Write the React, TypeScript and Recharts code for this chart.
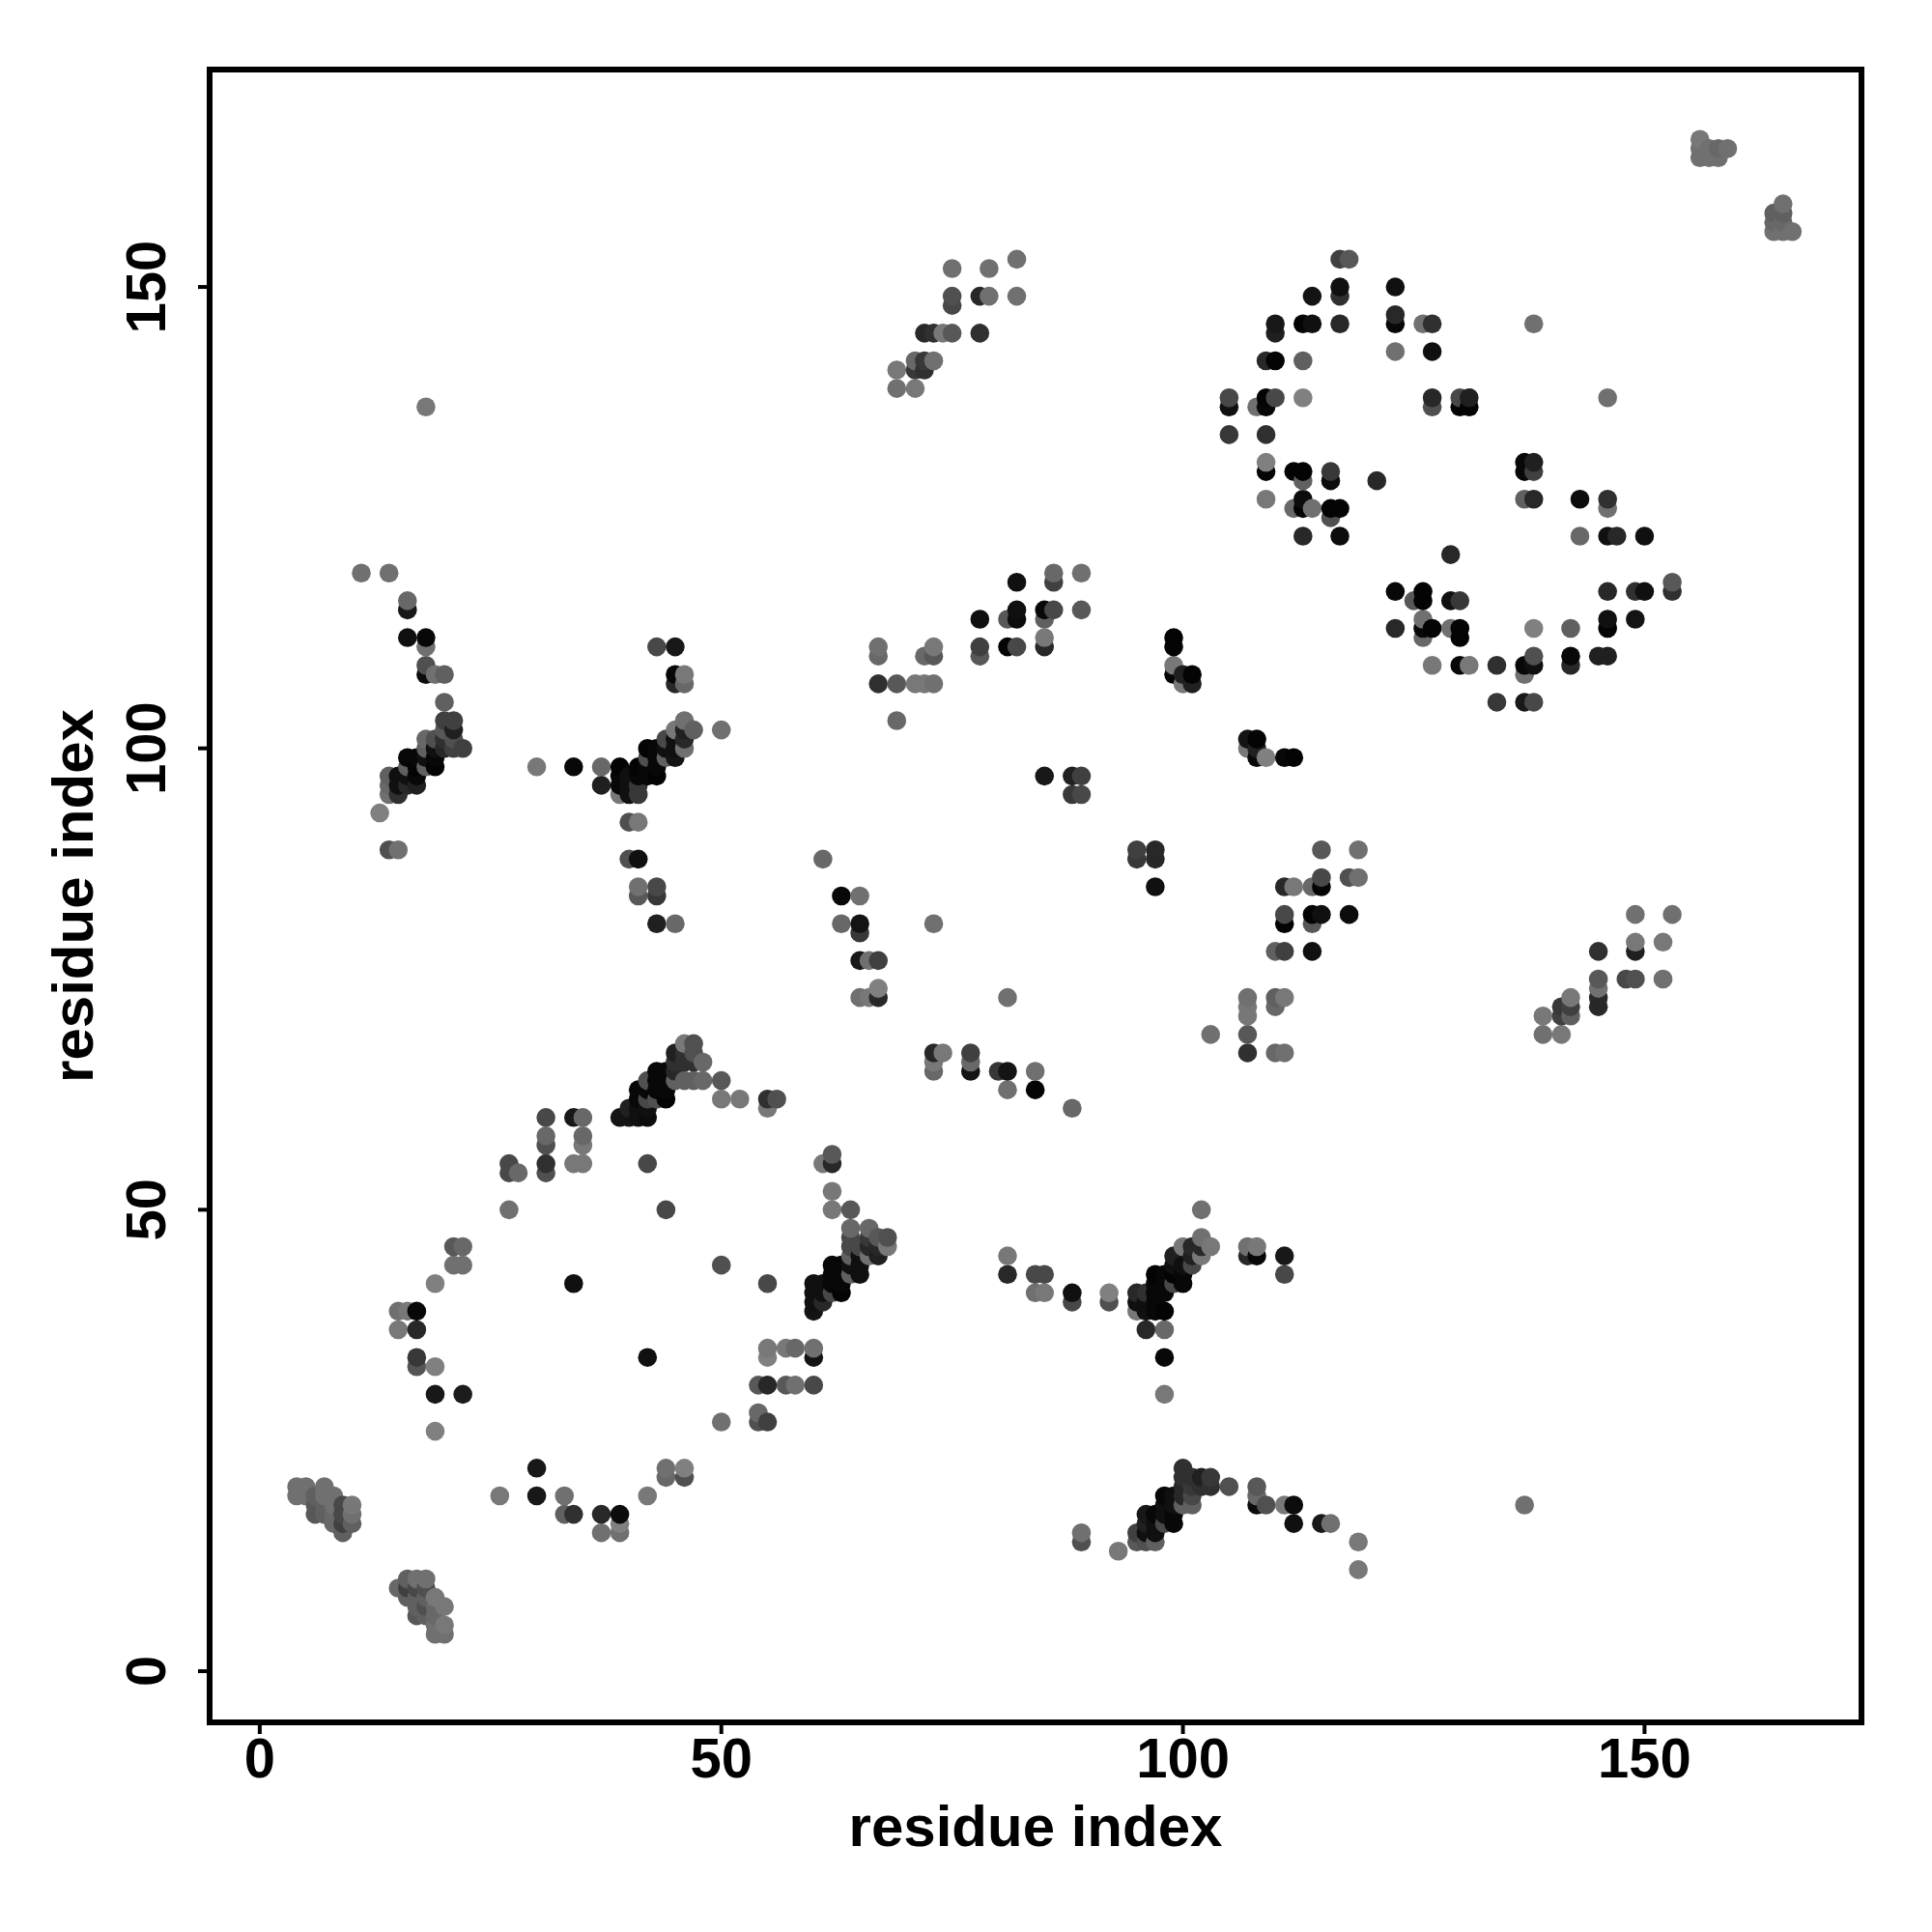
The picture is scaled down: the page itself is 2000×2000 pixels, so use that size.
import { ScatterChart, Scatter, XAxis, YAxis, ReferenceArea } from 'recharts'

// contacts are [residue i, residue j, shade], shade 0 = black, 128 = mid grey
type Contact = [number, number, number]

const xTicks = [0, 50, 100, 150]
const yTicks = [0, 50, 100, 150]
const xDomain: [number, number] = [-5.43, 173.5]
const yDomain: [number, number] = [-5.55, 173.56]

const cornerLow: Contact[] = [
  [4,20,0x70],[4,19,0x70],[5,20,0x70],[5,19,0x70],[6,19,0x60],[6,18,0x58],[6,17,0x58],[7,20,0x70],[7,19,0x70],[7,18,0x60],[7,17,0x60],
  [8,19,0x70],[8,18,0x70],[8,17,0x68],[8,16,0x68],[9,18,0x48],[9,17,0x48],[9,16,0x40],[9,15,0x60],[10,18,0x78],[10,17,0x70],[10,16,0x60],
  [15,9,0x68],[16,10,0x60],[16,9,0x40],[16,8,0x60],[17,10,0x70],[17,9,0x48],[17,8,0x60],[17,7,0x60],[17,6,0x58],[18,10,0x70],[18,9,0x50],[18,8,0x60],[18,7,0x50],[18,6,0x60],
  [19,8,0x78],[19,7,0x68],[19,6,0x68],[19,5,0x70],[19,4,0x70],[20,7,0x78],[20,5,0x78],[20,4,0x70],
]
const ringLow: Contact[] = [
  [15,39,0x70],[16,39,0x78],[17,39,0x08],[15,37,0x78],[17,37,0x28],[17,34,0x38],[17,33,0x55],[19,33,0x80],[19,42,0x80],[19,30,0x18],[22,30,0x1c],[19,26,0x80],
  [21,46,0x58],[22,46,0x68],[21,44,0x70],[22,44,0x70],[26,19,0x78],[30,22,0x18],[30,19,0x18],[33,19,0x70],[33,17,0x60],[34,17,0x30],[37,17,0x28],[39,17,0x0c],[37,15,0x70],[39,15,0x70],[39,16,0x80],
  [34,42,0x10],[42,34,0x10],[42,19,0x78],[44,22,0x70],[44,21,0x68],[46,22,0x80],[46,21,0x50],[50,44,0x50],[50,27,0x70],
  [27,55,0x48],[27,54,0x48],[28,54,0x68],[27,50,0x70],[31,60,0x48],[31,58,0x68],[31,57,0x50],[31,55,0x30],[31,54,0x50],[34,60,0x18],[35,60,0x68],[35,58,0x68],[35,57,0x78],[34,55,0x78],[35,55,0x78],
  [42,55,0x48],[44,50,0x48],[55,42,0x48],[54,31,0x58],[55,31,0x28],[57,31,0x58],[58,31,0x70],[60,31,0x48],[54,28,0x68],[54,27,0x50],[55,27,0x40],
  [55,35,0x78],[55,34,0x80],[57,35,0x78],[58,35,0x68],[60,35,0x70],[60,34,0x14],
]
const strandA: Contact[] = [
  [39,60,0x14],[40,60,0x14],[40,61,0x20],[41,60,0x10],[41,61,0x10],[41,62,0x08],[41,63,0x08],[42,60,0x0c],[42,61,0x10],[42,62,0x48],[42,63,0x08],[42,64,0x50],
  [43,62,0x50],[43,63,0x08],[43,64,0x08],[43,65,0x08],[44,62,0x04],[44,63,0x08],[44,64,0x08],[44,65,0x08],[45,64,0x60],[45,65,0x28],[45,66,0x30],[45,67,0x20],
  [46,64,0x60],[46,66,0x30],[46,67,0x30],[46,68,0x78],[47,64,0x60],[47,66,0x30],[47,67,0x50],[47,68,0x50],[48,64,0x68],[48,66,0x68],[50,64,0x58],[50,62,0x78],[52,62,0x78],[55,62,0x30],[55,61,0x78],[56,62,0x50],
]
const strandB: Contact[] = [
  [61,55,0x78],[62,56,0x58],[62,55,0x28],[62,52,0x78],[62,50,0x78],[64,50,0x58],
  [60,42,0x10],[60,41,0x10],[60,40,0x10],[60,39,0x14],[61,42,0x10],[61,41,0x10],[61,40,0x28],[62,44,0x08],[62,43,0x08],[62,42,0x08],[62,41,0x48],[63,44,0x08],[63,43,0x08],[63,42,0x08],[63,41,0x04],
  [64,48,0x68],[64,47,0x48],[64,46,0x48],[64,45,0x60],[64,44,0x10],[64,43,0x60],[65,46,0x48],[65,45,0x10],[65,44,0x10],[65,43,0x10],
  [66,48,0x68],[66,47,0x38],[66,46,0x28],[66,45,0x70],[67,47,0x58],[67,46,0x28],[67,45,0x20],[68,47,0x50],[68,46,0x78],
]
const strandC: Contact[] = [
  [81,45,0x78],[81,43,0x28],[84,43,0x48],[85,43,0x48],[84,41,0x70],[85,41,0x78],[88,41,0x10],[88,40,0x48],[92,41,0x80],[92,40,0x50],
  [95,41,0x28],[95,40,0x10],[95,39,0x78],[96,41,0x30],[96,40,0x10],[96,39,0x10],[96,37,0x28],[97,43,0x04],[97,42,0x08],[97,41,0x08],[97,40,0x08],[97,39,0x08],
  [98,43,0x08],[98,42,0x08],[98,41,0x08],[98,39,0x04],[98,37,0x68],[98,34,0x08],[98,30,0x78],[99,45,0x20],[99,44,0x10],[99,43,0x04],[99,42,0x48],
  [100,46,0x78],[100,44,0x10],[100,43,0x08],[100,42,0x08],[101,46,0x28],[101,45,0x20],[101,44,0x48],[102,50,0x70],[102,47,0x70],[102,46,0x28],[102,45,0x78],[103,46,0x78],
  [107,46,0x70],[108,46,0x78],[107,45,0x28],[108,45,0x08],[111,45,0x18],[111,43,0x48],
]
const strandD: Contact[] = [
  [89,15,0x70],[89,14,0x50],[93,13,0x78],[95,15,0x40],[95,14,0x58],[96,17,0x18],[96,16,0x20],[96,15,0x10],[96,14,0x50],[97,17,0x08],[97,16,0x10],[97,15,0x10],[97,14,0x60],
  [98,19,0x08],[98,18,0x10],[98,17,0x10],[98,16,0x48],[99,19,0x10],[99,18,0x10],[99,17,0x08],[99,16,0x08],
  [100,22,0x30],[100,21,0x30],[100,20,0x28],[100,19,0x28],[100,18,0x60],[101,21,0x30],[101,20,0x38],[101,19,0x48],[101,18,0x60],[102,21,0x20],[102,20,0x30],[103,21,0x38],[103,20,0x30],
  [105,20,0x50],[108,20,0x58],[108,19,0x68],[108,18,0x0c],[109,18,0x50],[111,18,0x78],[112,18,0x0c],[112,16,0x10],[115,16,0x18],[116,16,0x70],[119,14,0x78],[119,11,0x78],[137,18,0x70],
]
const crossLeft: Contact[] = [
  [11,119,0x70],[14,119,0x70],[16,116,0x68],[16,115,0x18],[16,112,0x10],[18,112,0x08],[18,111,0x70],[18,109,0x50],[18,108,0x0c],[19,108,0x70],[20,108,0x60],[20,105,0x60],
  [20,103,0x40],[21,103,0x40],[20,102,0x58],[21,102,0x20],[21,101,0x50],[22,100,0x40],[21,100,0x40],[20,101,0x30],[20,100,0x28],[18,101,0x68],[19,101,0x50],[18,100,0x60],[19,100,0x10],[18,99,0x10],[19,99,0x08],[19,98,0x04],[18,98,0x60],
  [16,99,0x08],[17,99,0x08],[17,98,0x04],[16,98,0x60],[17,97,0x08],[17,96,0x20],[16,97,0x10],[16,96,0x28],[15,97,0x10],[15,96,0x10],[15,95,0x30],[14,97,0x60],[14,96,0x68],[14,95,0x70],[13,93,0x80],[14,89,0x50],[15,89,0x70],
  [18,137,0x78],
]
const crossRight: Contact[] = [
  [30,98,0x78],[34,98,0x08],[37,98,0x68],[37,96,0x20],[39,98,0x04],[39,97,0x08],[39,96,0x08],[39,95,0x78],[40,97,0x10],[40,96,0x10],[40,95,0x10],[41,98,0x04],[41,97,0x08],[41,96,0x38],[41,95,0x38],
  [42,100,0x04],[42,99,0x50],[42,98,0x08],[42,97,0x08],[43,100,0x08],[43,99,0x08],[43,98,0x08],[43,97,0x04],[44,101,0x48],[44,100,0x10],[44,99,0x60],[45,102,0x78],[45,101,0x10],[45,100,0x10],[45,99,0x14],
  [46,103,0x70],[46,102,0x20],[46,101,0x28],[46,100,0x70],[47,102,0x60],[50,102,0x70],[43,111,0x48],[45,111,0x18],[45,108,0x08],[46,108,0x78],[45,107,0x28],[46,107,0x68],
  [40,92,0x50],[41,92,0x78],[40,88,0x50],[41,88,0x10],[41,85,0x70],[41,84,0x58],[43,85,0x48],[43,84,0x38],[43,81,0x20],[45,81,0x68],
]
const midSheet: Contact[] = [
  [61,88,0x68],[63,84,0x08],[65,84,0x70],[63,81,0x68],[65,81,0x14],[65,80,0x38],[73,81,0x70],[65,77,0x18],[66,77,0x70],[67,77,0x40],[65,73,0x70],[66,73,0x78],[67,73,0x28],[67,74,0x80],[81,73,0x70],
  [73,67,0x28],[74,67,0x78],[73,66,0x78],[73,65,0x68],[77,67,0x40],[77,66,0x68],[77,65,0x14],[80,65,0x38],[81,65,0x14],[84,65,0x70],[81,63,0x70],[84,63,0x04],[88,61,0x68],
  [95,89,0x40],[97,89,0x28],[95,88,0x38],[97,88,0x28],[97,85,0x10],[85,97,0x18],[88,97,0x20],[89,97,0x40],[88,95,0x38],[89,95,0x48],
  [107,101,0x14],[108,101,0x04],[107,100,0x78],[108,100,0x20],[108,99,0x08],[109,99,0x80],[111,99,0x08],[112,99,0x04],
  [115,89,0x58],[119,89,0x70],[115,86,0x48],[118,86,0x50],[119,86,0x70],[111,85,0x28],[112,85,0x78],[114,85,0x68],[115,85,0x04],[111,82,0x48],[111,81,0x04],[114,82,0x04],[115,82,0x10],[114,81,0x58],[118,82,0x0c],
  [110,78,0x60],[111,78,0x40],[114,78,0x10],[107,73,0x70],[107,72,0x78],[107,71,0x78],[110,73,0x60],[111,73,0x78],[110,72,0x68],[107,69,0x58],[103,69,0x70],[107,67,0x30],[110,67,0x68],[111,67,0x70],
]
const sideSheet: Contact[] = [
  [149,82,0x70],[153,82,0x70],[149,79,0x78],[149,78,0x20],[152,79,0x78],[145,78,0x30],[145,75,0x58],[145,74,0x70],[145,73,0x28],[145,72,0x28],[148,75,0x48],[149,75,0x50],[152,75,0x70],
  [142,73,0x78],[141,72,0x38],[142,72,0x40],[141,71,0x40],[142,71,0x60],[139,71,0x78],[139,69,0x70],[141,69,0x78],
]
const upperLeft: Contact[] = [
  [75,152,0x70],[79,152,0x70],[82,153,0x70],[75,149,0x50],[75,148,0x48],[78,149,0x28],[79,149,0x70],[82,149,0x70],[72,145,0x28],[73,145,0x30],[74,145,0x78],[75,145,0x58],[78,145,0x30],
  [71,142,0x68],[72,142,0x38],[73,142,0x70],[71,141,0x38],[72,141,0x30],[69,141,0x78],[69,139,0x70],[71,139,0x78],
  [86,119,0x68],[86,118,0x40],[89,119,0x70],[82,118,0x10],[82,115,0x10],[82,114,0x0c],[81,114,0x58],[78,114,0x10],[85,115,0x08],[86,115,0x48],[85,114,0x60],[89,115,0x58],
  [85,112,0x78],[85,111,0x28],[81,111,0x04],[82,111,0x48],[78,111,0x40],[78,110,0x58],[67,111,0x70],[67,110,0x68],[73,111,0x78],[72,110,0x68],[73,110,0x58],
  [67,107,0x30],[69,107,0x58],[71,107,0x78],[72,107,0x78],[73,107,0x70],[69,103,0x68],
  [99,112,0x04],[99,111,0x04],[99,109,0x78],[99,108,0x04],[100,108,0x20],[101,108,0x04],[100,107,0x78],[101,107,0x20],
]
const ringHigh: Contact[] = [
  [117,153,0x40],[118,153,0x58],[114,149,0x14],[117,150,0x10],[117,149,0x30],[123,150,0x10],[110,146,0x18],[110,145,0x20],[113,146,0x04],[114,146,0x10],[117,146,0x28],[123,147,0x28],[123,146,0x08],[126,146,0x70],[127,146,0x30],[138,146,0x70],
  [123,143,0x70],[127,143,0x10],[109,142,0x28],[110,142,0x04],[113,142,0x60],[105,138,0x48],[105,137,0x10],[109,138,0x04],[110,138,0x48],[109,137,0x08],[108,137,0x70],[113,138,0x80],
  [127,138,0x28],[127,137,0x50],[130,138,0x48],[131,138,0x20],[130,137,0x04],[131,137,0x04],[146,138,0x70],[105,134,0x38],[109,134,0x30],[109,131,0x80],[109,130,0x04],[112,130,0x04],[113,130,0x04],[113,129,0x60],[116,130,0x38],[116,129,0x0c],[121,129,0x28],
  [109,127,0x78],[113,127,0x0c],[113,126,0x04],[112,126,0x68],[114,126,0x70],[116,126,0x04],[117,126,0x04],[116,125,0x50],[113,123,0x28],[117,123,0x0c],[129,121,0x28],
  [137,131,0x08],[138,131,0x20],[137,130,0x08],[138,130,0x40],[137,127,0x60],[138,127,0x28],[143,127,0x0c],[146,127,0x30],[146,126,0x70],[143,123,0x68],[146,123,0x10],[147,123,0x28],[150,123,0x10],
  [123,117,0x08],[126,117,0x04],[125,116,0x58],[126,116,0x04],[129,116,0x10],[130,116,0x38],[123,113,0x28],[126,114,0x70],[126,113,0x08],[127,113,0x04],[126,112,0x68],[129,113,0x70],[130,113,0x04],[130,112,0x04],[138,113,0x80],[142,113,0x60],
  [146,117,0x28],[149,117,0x30],[150,117,0x10],[153,117,0x30],[153,118,0x58],[146,114,0x10],[146,113,0x04],[149,114,0x14],[145,110,0x20],[146,110,0x20],[142,110,0x08],[142,109,0x28],
  [138,110,0x50],[137,109,0x08],[138,109,0x10],[137,108,0x70],[134,109,0x30],[134,105,0x38],[137,105,0x18],[138,105,0x48],[127,109,0x78],[130,109,0x08],[131,109,0x78],
]
const cornerHigh: Contact[] = [
  [156,166,0x78],[156,165,0x70],[156,164,0x70],[157,165,0x70],[157,164,0x70],[158,165,0x68],[158,164,0x70],[159,165,0x70],
  [164,158,0x60],[164,157,0x68],[164,156,0x70],[165,159,0x70],[165,158,0x60],[165,157,0x68],[165,156,0x70],[166,156,0x70],
]

const contacts = [
  ...cornerLow, ...ringLow, ...strandA, ...strandB, ...strandC, ...strandD, ...crossLeft,
  ...crossRight, ...midSheet, ...sideSheet, ...upperLeft, ...ringHigh, ...cornerHigh,
]
  .sort((a, b) => a[0] - b[0] || a[1] - b[1])
  .map(([i, j, shade]) => ({ i, j, shade }))

const font = '"Liberation Sans", Arial, sans-serif'

function ContactDot(props: any) {
  const s = props.payload.shade
  return <circle cx={props.cx} cy={props.cy} r={9.8} fill={`rgb(${s},${s},${s})`} />
}

function XTick({ x, y, payload }: any) {
  return (
    <text x={x} y={y + 43} textAnchor="middle" fontFamily={font} fontWeight="bold" fontSize={58} fill="#000">
      {payload.value}
    </text>
  )
}

function YTick({ x, y, payload }: any) {
  return (
    <text
      transform={`translate(${x - 32} ${y}) rotate(-90)`}
      textAnchor="middle"
      fontFamily={font}
      fontWeight="bold"
      fontSize={58}
      fill="#000"
    >
      {payload.value}
    </text>
  )
}

export default function App() {
  return (
    <div style={{ position: 'absolute', left: 0, top: 0, width: 2000, height: 2000, background: '#fff' }}>
      <ScatterChart width={2000} height={2000} margin={{ left: 0, right: 73, top: 72, bottom: 0 }}>
        <XAxis
          type="number"
          dataKey="i"
          domain={xDomain}
          ticks={xTicks}
          allowDataOverflow
          height={217}
          tick={<XTick />}
          tickSize={12}
          tickLine={{ stroke: '#000', strokeWidth: 4 }}
          axisLine={false}
          label={{ value: 'residue index', position: 'insideBottom', offset: 89, fontFamily: font, fontWeight: 'bold', fontSize: 60, fill: '#000' }}
        />
        <YAxis
          type="number"
          dataKey="j"
          domain={yDomain}
          ticks={yTicks}
          allowDataOverflow
          width={217}
          tick={<YTick />}
          tickSize={12}
          tickLine={{ stroke: '#000', strokeWidth: 4 }}
          axisLine={false}
          label={{ value: 'residue index', angle: -90, position: 'insideLeft', offset: 75, style: { textAnchor: 'middle' }, fontFamily: font, fontWeight: 'bold', fontSize: 60, fill: '#000' }}
        />
        <Scatter data={contacts} shape={<ContactDot />} isAnimationActive={false} />
        <ReferenceArea
          x1={xDomain[0]}
          x2={xDomain[1]}
          y1={yDomain[0]}
          y2={yDomain[1]}
          fill="none"
          stroke="#000"
          strokeWidth={6}
          ifOverflow="visible"
        />
      </ScatterChart>
    </div>
  )
}
